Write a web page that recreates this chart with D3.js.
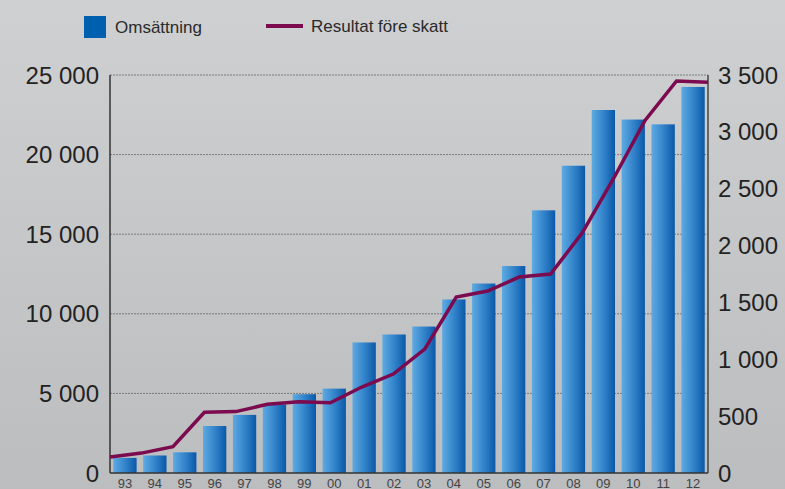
<!DOCTYPE html>
<html><head><meta charset="utf-8">
<script src="https://cdn.jsdelivr.net/npm/d3@7"></script>
<style>html,body{margin:0;padding:0;background:#c6c7c9;}svg{display:block;}</style>
</head><body>
<svg id="chart" width="785" height="489"></svg>
<script>
const years = ["93","94","95","96","97","98","99","00","01","02","03","04","05","06","07","08","09","10","11","12"];
const omsattning = [950,1100,1300,2950,3650,4300,4950,5300,8200,8700,9200,10900,11900,13000,16500,19300,22800,22200,21900,24250];
const resultat = [140,175,231,534,540,604,627,618,756,870,1090,1547,1600,1723,1750,2110,2590,3100,3447,3436];
const leftTicks = [0,5000,10000,15000,20000,25000];
const rightTicks = [0,500,1000,1500,2000,2500,3000,3500];
const legendLabels = ["Omsättning","Resultat före skatt"];

const svg = d3.select("#chart");
const W = 785, H = 489;
const L = 110, R = 708, T = 75, B = 473;
const fmt = v => d3.format(",")(v).replace(/,/g, " ");

const defs = svg.append("defs");
const bg = defs.append("linearGradient").attr("id","bg").attr("x1",0).attr("y1",0).attr("x2",0).attr("y2",1);
bg.append("stop").attr("offset","0%").attr("stop-color","#cfd0d2");
bg.append("stop").attr("offset","100%").attr("stop-color","#bcbdbf");
const bar = defs.append("linearGradient").attr("id","bar").attr("x1",0).attr("y1",0).attr("x2",1).attr("y2",0);
bar.append("stop").attr("offset","0%").attr("stop-color","#5eaae2");
bar.append("stop").attr("offset","55%").attr("stop-color","#2f80c8");
bar.append("stop").attr("offset","100%").attr("stop-color","#0a58a8");

svg.append("rect").attr("width",W).attr("height",H).attr("fill","url(#bg)");

const x = d3.scaleBand().domain(years).range([L,R]).paddingInner(0.22).paddingOuter(0.11);
const xp = d3.scalePoint().domain(years).range([L,R]);
const yL = d3.scaleLinear().domain([0,25000]).range([B,T]);
const yR = d3.scaleLinear().domain([0,3500]).range([B,T]);

// gridlines
svg.append("g").selectAll("line").data(leftTicks.filter(d=>d>0)).join("line")
  .attr("x1",L).attr("x2",R).attr("y1",d=>yL(d)).attr("y2",d=>yL(d))
  .attr("stroke","#7a7a7a").attr("stroke-width",1).attr("stroke-dasharray","2,1");

// bars
svg.append("g").selectAll("rect").data(years).join("rect")
  .attr("x",d=>x(d)).attr("width",x.bandwidth())
  .attr("y",(d,i)=>yL(omsattning[i])).attr("height",(d,i)=>B-yL(omsattning[i]))
  .attr("fill","url(#bar)");

// axes lines
svg.append("line").attr("x1",L).attr("x2",L).attr("y1",T).attr("y2",B).attr("stroke","#333").attr("stroke-width",1.5);
svg.append("line").attr("x1",R).attr("x2",R).attr("y1",T).attr("y2",B).attr("stroke","#444").attr("stroke-width",1.5);
svg.append("line").attr("x1",L).attr("x2",R).attr("y1",B).attr("y2",B).attr("stroke","#333").attr("stroke-width",1.5);

// line
const line = d3.line().x((d,i)=>xp(years[i])).y(d=>yR(d));
svg.append("path").datum(resultat).attr("d",line).attr("fill","none")
  .attr("stroke","#7b0a4f").attr("stroke-width",3.5).attr("stroke-linejoin","miter");

// left labels
svg.append("g").selectAll("text").data(leftTicks).join("text")
  .attr("x",99).attr("y",d=>yL(d)).attr("dy","0.36em").attr("text-anchor","end")
  .attr("font-family","Liberation Sans, Arial, sans-serif").attr("font-size",24).attr("fill","#222")
  .text(fmt);
// right labels
svg.append("g").selectAll("text").data(rightTicks).join("text")
  .attr("x",718).attr("y",d=>yR(d)).attr("dy","0.36em").attr("text-anchor","start")
  .attr("font-family","Liberation Sans, Arial, sans-serif").attr("font-size",24).attr("fill","#222")
  .text(fmt);
// x labels
svg.append("g").selectAll("text").data(years).join("text")
  .attr("x",d=>x(d)+x.bandwidth()/2).attr("y",487.5).attr("text-anchor","middle")
  .attr("font-family","Liberation Sans, Arial, sans-serif").attr("font-size",13).attr("fill","#444")
  .text(d=>d);

// legend
svg.append("rect").attr("x",84).attr("y",16).attr("width",22).attr("height",22).attr("fill","#0060b0");
svg.append("text").attr("x",115).attr("y",33).attr("font-family","Liberation Sans, Arial, sans-serif")
  .attr("font-size",17).attr("fill","#2a2a2a").text(legendLabels[0]);
svg.append("line").attr("x1",266).attr("x2",303).attr("y1",26).attr("y2",26).attr("stroke","#7b0a4f").attr("stroke-width",4);
svg.append("text").attr("x",311).attr("y",32).attr("font-family","Liberation Sans, Arial, sans-serif")
  .attr("font-size",17).attr("fill","#2a2a2a").text(legendLabels[1]);
</script>
</body></html>
